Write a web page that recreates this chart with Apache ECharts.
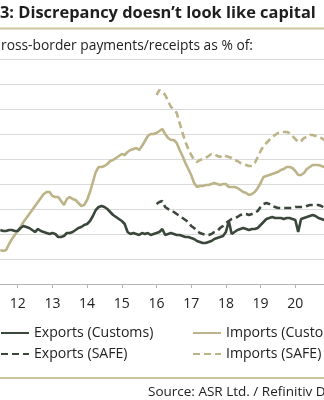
<!DOCTYPE html>
<html>
<head>
<meta charset="utf-8">
<script src="https://cdn.jsdelivr.net/npm/echarts@6/dist/echarts.min.js"></script>
<style>html,body{margin:0;padding:0;background:#fff}#c{width:324px;height:400px}</style>
</head>
<body>
<div id="c"></div>
<script>
// Monthly observations, first month = Jul 2011
const START = 2011.5;
// SAFE series begin Jan 2016
const SAFE_START = 2016.0;
const tickYears = [2012, 2013, 2014, 2015, 2016, 2017, 2018, 2019, 2020];

const exportsCustoms = [21.6,21.2,21.2,21.6,21.6,21.2,21.2,22.4,23.2,22.8,
  22.4,21.6,20.8,22.0,21.2,20.8,20.4,20.0,20.4,20.0,
  18.8,18.8,19.2,20.4,20.4,20.8,21.6,22.4,22.8,23.6,
  24.0,25.2,27.2,29.6,30.8,31.2,30.8,30.0,28.8,27.6,
  26.8,26.0,25.2,24.0,20.8,20.0,20.4,20.0,19.6,20.4,
  20.0,20.4,19.6,20.0,20.4,20.8,22.0,19.6,20.0,20.4,
  20.0,19.6,19.6,19.2,18.8,18.8,18.4,18.0,17.2,16.8,
  16.4,16.4,16.8,17.2,18.0,18.4,18.8,19.2,20.8,25.2,
  20.0,20.8,21.6,22.0,22.4,22.0,21.6,22.0,22.0,22.4,
  23.6,24.8,26.0,26.4,26.8,26.4,26.4,26.4,26.0,26.4,
  26.4,26.0,25.6,20.8,26.0,26.4,26.8,27.2,27.6,27.2,
  26.4,26.0,25.6,25.6];

const importsCustoms = [13.6,13.2,13.6,16.0,18.0,19.6,21.2,22.8,24.8,26.4,
  28.0,29.6,31.2,32.8,34.4,36.0,36.8,36.8,35.2,34.8,
  34.8,33.2,31.6,34.0,34.8,34.0,33.6,32.4,31.2,31.6,
  33.6,36.8,40.8,44.8,46.8,46.8,47.2,48.0,49.2,49.6,
  50.4,51.2,52.0,51.6,52.8,53.6,54.0,54.4,53.6,55.2,
  57.2,59.2,60.0,60.0,60.4,61.2,62.0,60.0,58.4,57.6,
  57.6,56.4,53.6,51.2,48.4,46.0,43.6,40.4,38.8,39.2,
  39.2,39.6,39.6,40.0,40.4,40.0,39.6,40.0,40.0,38.8,
  38.8,38.8,38.4,37.6,36.8,36.4,35.6,36.0,36.8,38.4,
  40.4,42.8,43.2,43.6,44.0,44.4,44.8,45.6,46.0,46.8,
  46.8,46.4,45.2,43.6,43.6,44.4,46.0,46.8,47.6,47.6,
  47.6,47.2,46.8,46.8];

const exportsSAFE = [32.0,32.8,33.2,30.8,30.0,29.6,28.8,28.0,27.2,26.4,
  25.6,24.8,23.2,22.4,21.2,20.4,20.0,19.6,19.6,20.0,
  20.8,21.2,22.4,23.2,24.4,25.2,26.0,26.4,26.8,27.6,
  28.0,28.0,27.6,28.0,28.4,29.2,30.8,32.0,32.4,32.0,
  31.2,30.8,30.4,30.4,30.4,30.4,30.4,30.4,30.8,30.8,
  30.8,30.8,31.2,31.6,31.6,31.6,31.6,31.2,30.4,30.4];

const importsSAFE = [75.6,77.6,76.8,75.6,73.2,70.8,70.0,68.4,64.4,60.4,
  56.8,54.0,51.6,49.6,48.8,49.6,50.0,50.4,51.2,52.0,
  52.0,51.2,50.8,51.6,51.2,50.8,50.4,49.6,49.2,48.4,
  48.0,47.6,47.2,47.2,48.4,50.8,53.2,55.2,56.4,57.6,
  58.8,59.6,60.4,60.4,60.8,60.8,60.4,59.2,58.0,56.8,
  57.2,58.4,58.8,59.6,59.6,59.2,58.8,58.4,57.6,57.2];

const titleText = '3: Discrepancy doesn\u2019t look like capital';
const subtitleText = 'ross-border payments/receipts as % of:';
const sourceText = 'Source: ASR Ltd. / Refinitiv Datastream';
const names = ['Exports (Customs)', 'Imports (Customs)', 'Exports (SAFE)', 'Imports (SAFE)'];

const FAM = '"Open Sans", "Noto Sans", sans-serif';
const ctx = document.createElement('canvas').getContext('2d');
function fit(text, weight, target) {
  ctx.font = weight + ' 100px ' + FAM;
  return Math.round(1000 * target / ctx.measureText(text).width) / 10;
}
const titleSize = fit(titleText, 'bold', 316);
const subSize = fit(subtitleText, 'normal', 252);
const legSize = fit(names[0], 'normal', 119);
const srcSize = fit('Source: ASR Ltd. / Refinitiv ', 'normal', 168);

const DARK = '#3a473a';
const BEIGE = '#bdb388';

const toPts = (arr, start) => arr.map((v, i) => [start + i / 12, v]);

function lineSeries(name, data, color, dashed) {
  return {
    name, type: 'line', data, symbol: 'none', showSymbol: false, smooth: false,
    lineStyle: { color, width: 2.6, type: dashed ? [7, 4] : 'solid' },
    itemStyle: { color },
    emphasis: { disabled: true }
  };
}

const chart = echarts.init(document.getElementById('c'), null, { renderer: 'canvas' });
chart.setOption({
  animation: false,
  backgroundColor: '#fff',
  grid: { left: 0, right: 0, top: 59, bottom: 116, containLabel: false },
  xAxis: {
    type: 'value',
    min: 2011.49, max: 2020.827,
    axisLine: { show: true, lineStyle: { color: '#b5b5b5', width: 1 } },
    axisTick: { show: true, length: 4, lineStyle: { color: '#b5b5b5' }, customValues: tickYears },
    axisLabel: {
      customValues: tickYears,
      formatter: v => String(Math.round(v)).slice(2),
      color: '#222', fontSize: 14, fontFamily: FAM, margin: 13
    },
    splitLine: { show: false }
  },
  yAxis: {
    type: 'value', min: 0, max: 90, interval: 10,
    axisLine: { show: false }, axisTick: { show: false }, axisLabel: { show: false },
    splitLine: { show: true, lineStyle: { color: '#dadada', width: 1 } }
  },
  legend: [
    { data: [names[0]], left: 0, top: 326 },
    { data: [names[1]], left: 192, top: 326 },
    { data: [names[2]], left: 0, top: 347 },
    { data: [names[3]], left: 192, top: 347 }
  ].map(l => Object.assign(l, {
    itemWidth: 28, itemHeight: 14, padding: 0, selectedMode: false,
    itemStyle: { opacity: 0 },
    textStyle: { fontSize: legSize, fontFamily: FAM, color: '#222' }
  })),
  series: [
    lineSeries(names[1], toPts(importsCustoms, START), BEIGE, false),
    lineSeries(names[3], toPts(importsSAFE, SAFE_START), BEIGE, true),
    lineSeries(names[0], toPts(exportsCustoms, START), DARK, false),
    lineSeries(names[2], toPts(exportsSAFE, SAFE_START), DARK, true)
  ],
  graphic: [
    { type: 'text', x: 0, y: 13, style: { text: titleText, fontSize: titleSize, fontFamily: FAM, fontWeight: 'bold', fill: '#1e1e1e', align: 'left', verticalAlign: 'middle' } },
    { type: 'line', shape: { x1: 0, y1: 28.5, x2: 324, y2: 28.5 }, style: { stroke: '#cdc49e', lineWidth: 2 } },
    { type: 'text', x: 1, y: 46, style: { text: subtitleText, fontSize: subSize, fontFamily: FAM, fill: '#222', align: 'left', verticalAlign: 'middle' } },
    { type: 'line', shape: { x1: 0, y1: 378, x2: 324, y2: 378 }, style: { stroke: '#cdc49e', lineWidth: 2 } },
    { type: 'text', x: 148, y: 392, style: { text: sourceText, fontSize: srcSize, fontFamily: FAM, fill: '#222', align: 'left', verticalAlign: 'middle' } }
  ]
});
</script>
</body>
</html>
